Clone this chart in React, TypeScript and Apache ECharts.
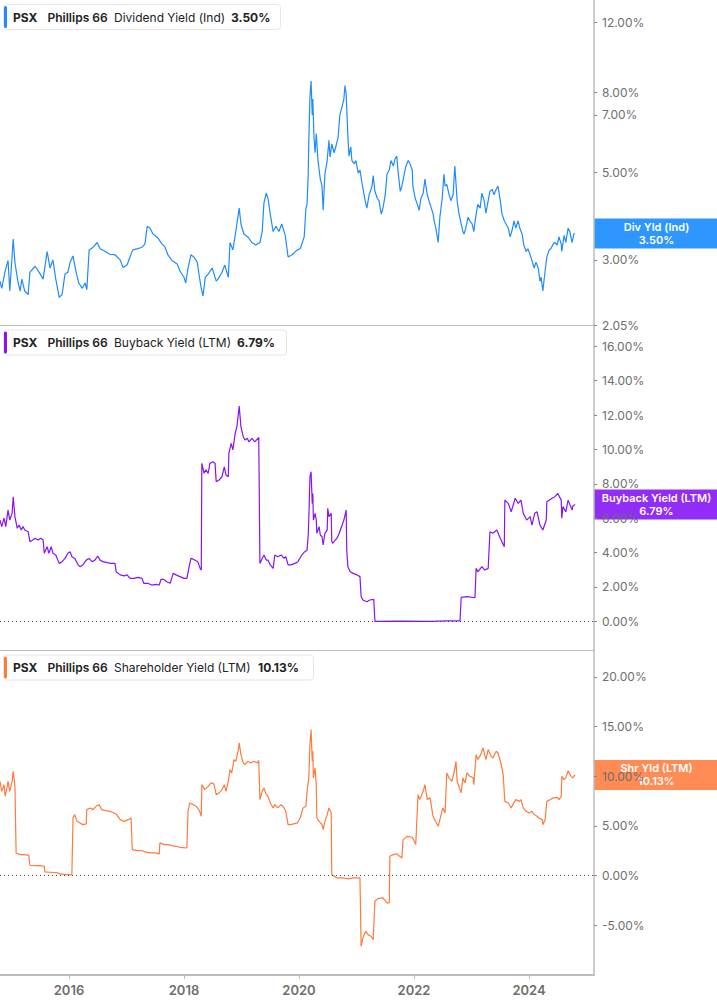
import React, { useEffect, useRef } from "react";
import * as echarts from "echarts";

// ---------- DATA ----------
const ticker = "PSX";
const company = "Phillips 66";
const yearTicks = [2016, 2018, 2020, 2022, 2024];
const divTicks = [2.05, 3, 5, 7, 8, 12];
const buyTicks = [0, 2, 4, 6, 8, 10, 12, 14, 16];
const shrTicks = [-5, 0, 5, 10, 15, 20];

const divYears = [2014.80,2014.83,2014.89,2014.94,2014.97,2015.03,2015.06,2015.11,2015.15,2015.18,2015.23,2015.29,2015.32,2015.41,2015.50,2015.55,2015.62,2015.67,2015.72,2015.77,2015.83,2015.88,2015.93,2015.98,2016.02,2016.07,2016.12,2016.17,2016.23,2016.28,2016.31,2016.35,2016.42,2016.49,2016.54,2016.63,2016.71,2016.80,2016.89,2016.94,2017.01,2017.06,2017.11,2017.18,2017.27,2017.32,2017.36,2017.41,2017.46,2017.53,2017.62,2017.67,2017.72,2017.79,2017.88,2017.93,2018.00,2018.03,2018.07,2018.12,2018.17,2018.23,2018.26,2018.30,2018.33,2018.37,2018.42,2018.49,2018.56,2018.59,2018.66,2018.71,2018.77,2018.80,2018.85,2018.90,2018.96,2018.99,2019.04,2019.11,2019.18,2019.25,2019.32,2019.36,2019.39,2019.43,2019.46,2019.50,2019.55,2019.60,2019.65,2019.70,2019.76,2019.81,2019.88,2019.97,2020.02,2020.05,2020.09,2020.12,2020.14,2020.16,2020.17,2020.19,2020.21,2020.23,2020.24,2020.26,2020.28,2020.30,2020.33,2020.37,2020.40,2020.42,2020.45,2020.49,2020.52,2020.54,2020.57,2020.61,2020.64,2020.68,2020.71,2020.75,2020.78,2020.80,2020.82,2020.85,2020.87,2020.90,2020.92,2020.96,2020.99,2021.03,2021.06,2021.10,2021.15,2021.18,2021.22,2021.27,2021.29,2021.32,2021.36,2021.39,2021.43,2021.46,2021.50,2021.53,2021.57,2021.60,2021.64,2021.67,2021.70,2021.72,2021.76,2021.79,2021.83,2021.86,2021.90,2021.93,2021.97,2021.98,2022.02,2022.05,2022.09,2022.12,2022.16,2022.19,2022.23,2022.26,2022.30,2022.33,2022.35,2022.38,2022.42,2022.45,2022.49,2022.52,2022.54,2022.57,2022.61,2022.64,2022.68,2022.71,2022.75,2022.78,2022.82,2022.85,2022.87,2022.90,2022.94,2022.97,2023.01,2023.04,2023.08,2023.11,2023.15,2023.18,2023.22,2023.25,2023.29,2023.32,2023.36,2023.39,2023.43,2023.46,2023.50,2023.53,2023.57,2023.60,2023.64,2023.67,2023.70,2023.74,2023.77,2023.81,2023.84,2023.88,2023.91,2023.95,2023.98,2024.02,2024.05,2024.09,2024.12,2024.16,2024.19,2024.21,2024.24,2024.28,2024.31,2024.35,2024.38,2024.42,2024.45,2024.49,2024.52,2024.56,2024.57,2024.61,2024.64,2024.68,2024.71,2024.75,2024.78,2024.80];
const divYield = [2.65,2.54,2.81,2.99,2.50,3.39,2.95,2.65,2.50,2.68,2.50,2.45,2.79,2.89,2.76,2.68,3.15,2.86,3.00,2.68,2.41,2.45,2.76,2.79,2.96,3.07,2.81,2.62,2.54,2.62,2.52,3.18,3.23,3.32,3.20,3.15,3.10,3.09,3.00,2.87,2.91,3.05,3.18,3.20,3.23,3.29,3.65,3.61,3.49,3.43,3.29,3.23,3.09,2.99,2.93,2.81,2.71,2.62,2.86,3.09,3.05,2.96,2.76,2.54,2.43,2.71,2.76,2.86,2.65,2.68,2.79,2.91,2.71,3.32,3.18,3.54,4.06,3.70,3.49,3.43,3.32,3.27,3.32,3.54,4.18,4.43,4.30,3.92,3.54,3.65,3.54,3.70,3.46,3.05,3.09,3.18,3.20,3.29,3.43,4.06,4.15,4.95,5.99,7.74,8.53,6.99,7.68,6.15,5.61,6.28,5.36,4.81,4.62,4.01,4.95,5.36,6.03,5.47,5.91,5.61,5.81,6.15,6.99,7.36,7.68,8.31,7.91,6.15,5.50,5.81,5.36,5.26,5.36,4.98,5.07,4.66,4.24,4.06,4.39,4.62,4.91,4.48,4.30,4.24,3.92,4.06,4.39,4.95,5.07,5.36,5.19,5.41,5.50,5.07,4.48,4.62,4.95,5.19,5.36,5.26,5.07,4.62,4.30,4.18,4.01,4.30,4.43,4.81,4.39,4.24,4.06,3.94,3.77,3.61,3.32,3.85,4.30,4.95,4.62,4.66,4.39,4.24,4.39,5.19,4.24,3.94,3.70,3.54,3.49,3.61,3.85,3.77,3.70,3.54,3.92,4.15,4.06,4.43,4.24,3.94,4.24,4.48,4.53,4.39,4.53,4.62,4.24,3.92,3.77,3.70,3.61,3.43,3.54,3.77,3.61,3.77,3.61,3.49,3.27,3.15,3.20,3.09,2.99,2.86,2.96,2.86,2.65,2.71,2.50,2.81,3.05,3.18,3.20,3.29,3.32,3.27,3.43,3.29,3.15,3.46,3.32,3.61,3.54,3.32,3.49,3.50];

const buyYears = [2014.80,2014.83,2014.87,2014.90,2014.94,2014.97,2015.01,2015.03,2015.06,2015.10,2015.13,2015.17,2015.20,2015.23,2015.29,2015.32,2015.37,2015.41,2015.46,2015.51,2015.55,2015.57,2015.62,2015.65,2015.69,2015.72,2015.77,2015.83,2015.88,2015.93,2015.98,2016.02,2016.05,2016.10,2016.16,2016.19,2016.24,2016.30,2016.35,2016.40,2016.45,2016.50,2016.54,2016.59,2016.66,2016.73,2016.80,2016.82,2016.89,2016.96,2017.01,2017.06,2017.13,2017.20,2017.27,2017.30,2017.37,2017.44,2017.51,2017.57,2017.60,2017.65,2017.70,2017.76,2017.81,2017.86,2017.93,2018.00,2018.05,2018.09,2018.12,2018.17,2018.24,2018.28,2018.30,2018.31,2018.35,2018.38,2018.42,2018.45,2018.50,2018.54,2018.56,2018.61,2018.66,2018.70,2018.73,2018.77,2018.78,2018.82,2018.85,2018.89,2018.92,2018.96,2018.99,2019.03,2019.06,2019.10,2019.13,2019.18,2019.23,2019.29,2019.30,2019.32,2019.36,2019.39,2019.43,2019.46,2019.50,2019.55,2019.58,2019.63,2019.69,2019.74,2019.77,2019.81,2019.86,2019.93,2019.98,2020.05,2020.10,2020.14,2020.16,2020.17,2020.19,2020.21,2020.23,2020.24,2020.25,2020.28,2020.30,2020.31,2020.35,2020.37,2020.40,2020.42,2020.45,2020.49,2020.50,2020.52,2020.56,2020.57,2020.59,2020.63,2020.66,2020.70,2020.73,2020.76,2020.78,2020.82,2020.83,2020.85,2020.89,2020.94,2021.01,2021.06,2021.08,2021.11,2021.18,2021.23,2021.30,2021.32,2021.76,2022.28,2022.57,2022.80,2022.82,2022.92,2023.06,2023.08,2023.11,2023.18,2023.23,2023.29,2023.32,2023.37,2023.44,2023.50,2023.57,2023.58,2023.64,2023.69,2023.76,2023.81,2023.86,2023.90,2023.96,2024.02,2024.05,2024.10,2024.14,2024.19,2024.24,2024.30,2024.31,2024.40,2024.45,2024.50,2024.56,2024.57,2024.59,2024.64,2024.68,2024.75,2024.76,2024.80];
const buyYield = [5.89,5.51,6.00,5.51,6.47,5.89,6.28,7.25,6.09,5.41,5.60,5.31,5.51,5.31,5.21,4.63,4.73,4.83,4.73,4.83,4.73,3.96,4.34,3.96,4.34,3.96,3.86,3.37,3.47,3.66,3.96,4.05,3.76,3.66,3.28,3.18,3.28,3.56,3.66,3.47,3.56,3.80,3.56,3.47,3.41,3.37,3.37,2.88,2.70,2.64,2.70,2.50,2.50,2.56,2.50,2.21,2.21,2.11,2.15,2.11,2.44,2.44,2.30,2.21,2.79,2.70,2.60,2.50,2.50,3.18,3.66,3.60,3.47,3.08,2.98,9.19,8.61,8.81,8.61,9.19,9.28,9.19,8.12,8.22,8.41,8.99,8.51,8.41,9.77,10.35,9.97,10.93,11.32,12.52,11.32,10.74,10.55,10.65,10.44,10.65,10.44,10.65,10.70,3.37,3.66,3.86,3.56,3.56,3.28,3.08,3.86,3.76,3.86,3.66,3.76,3.28,3.28,3.37,3.47,3.86,4.05,4.14,5.02,5.89,8.41,8.70,6.86,7.44,5.89,6.28,5.89,5.12,5.51,5.02,4.92,4.44,5.12,5.31,6.58,6.09,6.28,4.63,4.54,4.73,4.83,5.12,5.41,5.70,5.89,6.47,4.14,3.18,2.88,2.79,2.70,2.60,1.44,1.24,1.14,1.24,1.28,0.00,0.01,0.00,0.02,0.03,1.39,1.44,1.37,3.08,2.88,3.18,2.98,3.08,5.21,5.12,5.31,4.83,4.34,7.05,6.86,6.37,7.16,6.86,7.05,6.28,5.89,6.09,5.60,6.28,6.37,5.60,5.31,5.89,6.95,7.16,7.25,7.44,7.05,6.00,6.67,6.37,7.05,6.47,6.70,6.79];

const shrYears = [2014.80,2014.83,2014.87,2014.89,2014.92,2014.94,2014.97,2015.01,2015.03,2015.06,2015.08,2015.15,2015.23,2015.30,2015.32,2015.41,2015.50,2015.57,2015.58,2015.67,2015.81,2015.84,2015.93,2016.05,2016.07,2016.10,2016.14,2016.19,2016.24,2016.30,2016.31,2016.37,2016.42,2016.47,2016.52,2016.57,2016.64,2016.71,2016.78,2016.83,2016.89,2016.96,2017.03,2017.08,2017.10,2017.18,2017.27,2017.32,2017.41,2017.50,2017.57,2017.58,2017.65,2017.72,2017.79,2017.86,2017.93,2018.05,2018.07,2018.10,2018.16,2018.21,2018.26,2018.30,2018.31,2018.36,2018.42,2018.47,2018.52,2018.56,2018.61,2018.66,2018.70,2018.73,2018.77,2018.80,2018.83,2018.87,2018.90,2018.94,2018.96,2018.99,2019.03,2019.06,2019.11,2019.16,2019.22,2019.27,2019.30,2019.32,2019.36,2019.39,2019.43,2019.46,2019.50,2019.55,2019.58,2019.63,2019.69,2019.74,2019.77,2019.81,2019.86,2019.97,2020.02,2020.07,2020.12,2020.14,2020.17,2020.19,2020.21,2020.23,2020.24,2020.25,2020.28,2020.30,2020.31,2020.35,2020.40,2020.42,2020.45,2020.49,2020.52,2020.56,2020.57,2020.66,2020.76,2020.85,2020.94,2021.06,2021.08,2021.11,2021.16,2021.20,2021.25,2021.29,2021.32,2021.37,2021.46,2021.53,2021.57,2021.58,2021.64,2021.70,2021.79,2021.81,2021.88,2021.97,2022.03,2022.07,2022.10,2022.16,2022.19,2022.23,2022.28,2022.33,2022.36,2022.42,2022.45,2022.50,2022.54,2022.57,2022.61,2022.66,2022.70,2022.73,2022.75,2022.82,2022.85,2022.89,2022.92,2022.97,2023.03,2023.04,2023.08,2023.11,2023.16,2023.20,2023.25,2023.29,2023.34,2023.37,2023.43,2023.46,2023.51,2023.55,2023.58,2023.64,2023.69,2023.72,2023.77,2023.83,2023.86,2023.90,2023.95,2024.00,2024.05,2024.09,2024.14,2024.17,2024.23,2024.24,2024.28,2024.31,2024.37,2024.42,2024.49,2024.52,2024.56,2024.57,2024.61,2024.64,2024.68,2024.73,2024.76,2024.80];
const shrYield = [9.49,8.48,9.15,7.98,8.82,9.49,8.48,9.49,10.49,8.98,2.28,2.11,2.11,2.04,1.04,1.01,1.01,0.94,0.37,0.34,0.27,0.17,0.10,0.10,5.80,6.14,5.46,5.30,5.13,5.20,6.64,6.81,6.64,6.97,7.14,6.64,6.54,6.47,6.30,6.14,5.63,5.46,5.63,5.80,2.62,2.52,2.52,2.38,2.28,2.28,2.18,3.29,3.12,3.12,3.02,2.95,2.85,2.78,6.47,7.31,7.14,6.97,6.64,5.97,9.15,8.65,8.98,9.33,9.23,8.15,8.32,8.65,9.15,8.48,9.49,10.66,10.33,11.67,11.50,12.51,13.35,12.17,11.34,11.17,11.50,11.34,11.50,11.34,11.57,7.65,8.48,8.82,8.15,7.98,7.31,6.81,7.14,6.81,7.14,6.81,6.47,5.13,5.13,5.30,5.80,6.81,6.97,8.48,9.83,13.18,14.69,11.50,12.51,9.83,10.84,9.15,5.80,5.46,5.13,4.63,5.46,6.14,6.81,6.30,0.10,-0.23,-0.23,-0.33,-0.23,-0.23,-7.11,-6.27,-5.60,-5.94,-6.10,-6.44,-2.58,-2.31,-2.24,-2.75,-2.75,1.94,2.11,2.18,1.78,3.62,3.95,3.86,3.12,8.15,7.65,8.48,9.15,7.65,7.82,5.97,5.63,4.96,5.63,6.81,6.30,10.33,9.83,9.49,10.49,11.50,9.49,8.32,9.83,9.33,10.33,9.99,9.83,9.15,12.17,11.67,12.17,12.85,11.67,12.68,12.00,11.84,12.51,12.34,11.34,10.16,7.47,7.31,6.81,7.14,7.65,7.47,7.65,6.81,6.47,6.30,6.47,6.14,5.97,5.80,5.63,5.13,5.63,7.47,7.65,7.82,7.88,7.65,7.98,9.99,9.66,9.83,10.56,9.99,9.83,10.13];

const panels = [
  { metric: "Dividend Yield (Ind)", badge: "Div Yld (Ind)", last: 3.5, color: "#1e8cff", badgeColor: "#1e8fff", years: divYears, values: divYield, ticks: divTicks, valueX: 231, boxW: 277 },
  { metric: "Buyback Yield (LTM)", badge: "Buyback Yield (LTM)", last: 6.79, color: "#8a12f5", badgeColor: "#8a1cf6", years: buyYears, values: buyYield, ticks: buyTicks, valueX: 237, boxW: 283 },
  { metric: "Shareholder Yield (LTM)", badge: "Shr Yld (LTM)", last: 10.13, color: "#ff7a3d", badgeColor: "#ff8248", years: shrYears, values: shrYield, ticks: shrTicks, valueX: 258, boxW: 310 },
];

const FONT = "Inter, 'Noto Sans', sans-serif";
const W = 717, H = 1005;
const PLOT_W = 594;
const PANEL_TOPS = [0, 325, 650];
const PANEL_H = 325;
const X_MIN = 2014.8, X_MAX = 2025.13;
const Y_RANGES: [number, number][] = [[2.05, 13.7], [-1.67, 17.24], [-10, 22.7]];

export default function App() {
  const ref = useRef<HTMLDivElement>(null);
  useEffect(() => {
    if (!ref.current) return;
    const chart = echarts.init(ref.current, undefined, { renderer: "svg" });
    const grids = PANEL_TOPS.map((t) => ({ left: 0, top: t, width: PLOT_W, height: PANEL_H }));
    const xAxes = PANEL_TOPS.map((_, i) => ({
      type: "value",
      gridIndex: i,
      min: X_MIN,
      max: X_MAX,
      splitLine: { show: false },
      axisLine: { show: true, onZero: false, lineStyle: { color: "#bdbdbd", width: i === 2 ? 2 : 1 } },
      axisTick: i === 2 ? { show: true, customValues: yearTicks, length: 4, lineStyle: { color: "#bdbdbd" } } : { show: false },
      axisLabel: i === 2
        ? { show: true, customValues: yearTicks, formatter: (v: number) => String(Math.round(v)), color: "#6e6e6e", fontSize: 13, fontWeight: 600, fontFamily: FONT, margin: 8 }
        : { show: false },
    }));
    const yAxes = panels.map((p, i) => ({
      type: i === 0 ? "log" : "value",
      logBase: 10,
      gridIndex: i,
      position: "right",
      min: Y_RANGES[i][0],
      max: Y_RANGES[i][1],
      splitLine: { show: false },
      axisLine: { show: true, lineStyle: { color: "#bdbdbd", width: 1.5 } },
      axisTick: { show: true, customValues: p.ticks, length: 3, lineStyle: { color: "#888" } },
      axisLabel: {
        show: true, customValues: p.ticks, color: "#6e6e6e", fontSize: 12, fontFamily: FONT, margin: 8,
        formatter: (v: number) => v.toFixed(2) + "%",
      },
    }));
    const series = panels.map((p, i) => ({
      type: "line",
      xAxisIndex: i,
      yAxisIndex: i,
      showSymbol: false,
      symbol: "none",
      lineStyle: { color: p.color, width: 1.2 },
      itemStyle: { color: p.color },
      data: p.years.map((t, k) => [t, p.values[k]]),
      markLine: i === 0 ? undefined : {
        silent: true,
        symbol: ["none", "none"],
        label: { show: false },
        lineStyle: { color: "#444", type: [1, 3], width: 1 },
        data: [{ yAxis: 0 }],
      },
      z: 3,
    }));
    chart.setOption({
      animation: false,
      backgroundColor: "#ffffff",
      grid: grids,
      xAxis: xAxes,
      yAxis: yAxes,
      series,
    });

    const graphics: any[] = [];
    panels.forEach((p, i) => {
      const top = PANEL_TOPS[i];
      const off = i === 0 ? 0 : 0.5;
      const cy = top + 17 + off;
      graphics.push({
        type: "group",
        z: 10,
        children: [
          { type: "rect", shape: { x: 3.5, y: top + 4.5 + off, width: p.boxW, height: 25, r: 3 }, style: { fill: "#fff", stroke: "#e6e6e6", lineWidth: 1 } },
          { type: "rect", shape: { x: 4, y: top + 6 + off, width: 3, height: 22, r: 1.5 }, style: { fill: p.color } },
          { type: "text", x: 13, y: cy, style: { text: ticker, fill: "#222", font: `700 12px ${FONT}`, textVerticalAlign: "middle" } },
          { type: "text", x: 47.5, y: cy, style: { text: company, fill: "#222", font: `600 12px ${FONT}`, textVerticalAlign: "middle" } },
          { type: "text", x: 114, y: cy, style: { text: p.metric, fill: "#222", font: `400 12px ${FONT}`, textVerticalAlign: "middle" } },
          { type: "text", x: p.valueX, y: cy, style: { text: p.last.toFixed(2) + "%", fill: "#222", font: `700 12px ${FONT}`, textVerticalAlign: "middle" } },
        ],
      });
      const py = chart.convertToPixel({ yAxisIndex: i } as any, p.last) as unknown as number;
      graphics.push({
        type: "group",
        z: 20,
        children: [
          { type: "rect", shape: { x: PLOT_W, y: py - 15, width: W - PLOT_W, height: 30 }, style: { fill: p.badgeColor, opacity: 0.93 } },
          { type: "text", x: (PLOT_W + W) / 2 + 1, y: py - 6.5, style: { text: p.badge, fill: "#fff", font: `600 11px ${FONT}`, textAlign: "center", textVerticalAlign: "middle" } },
          { type: "text", x: (PLOT_W + W) / 2 + 1, y: py + 6.5, style: { text: p.last.toFixed(2) + "%", fill: "#fff", font: `600 11px ${FONT}`, textAlign: "center", textVerticalAlign: "middle" } },
        ],
      });
    });
    chart.setOption({ graphic: graphics });
    return () => chart.dispose();
  }, []);
  return <div ref={ref} style={{ position: "absolute", left: 0, top: 0, width: W, height: H }} />;
}
